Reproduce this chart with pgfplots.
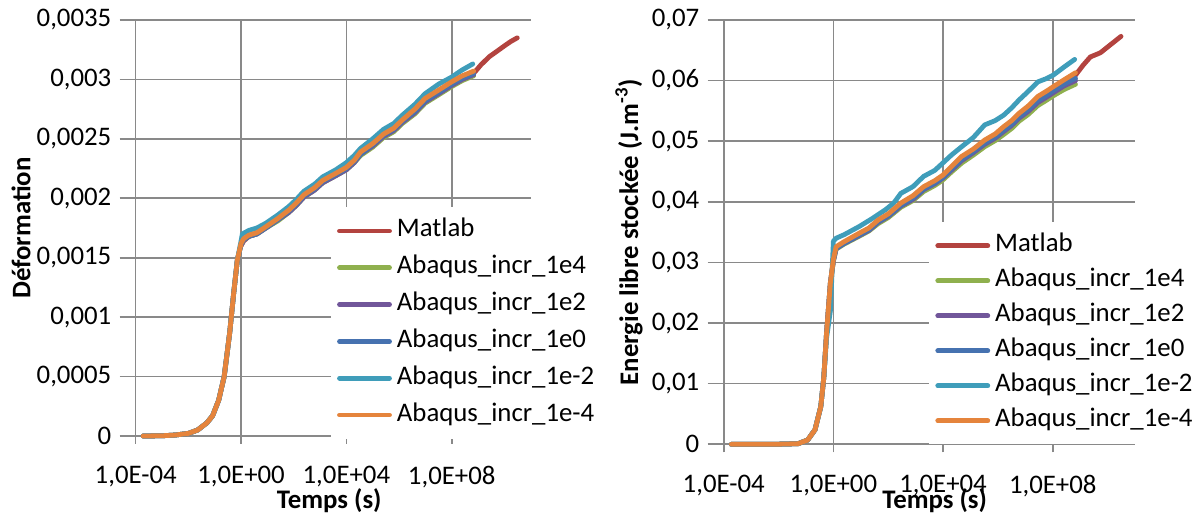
\documentclass[border=0pt]{standalone}
\usepackage{fontspec}
\setmainfont{Carlito}
\usepackage{pgfplots}
\pgfplotsset{compat=1.18}
\definecolor{gridgray}{HTML}{898989}
\definecolor{cMat}{HTML}{B3433F}
\definecolor{cG}{HTML}{8FB04E}
\definecolor{cP}{HTML}{71569A}
\definecolor{cB}{HTML}{4672B0}
\definecolor{cC}{HTML}{3F9DBA}
\definecolor{cO}{HTML}{E5843C}
\pgfplotsset{
  excel/.style={
    scale only axis,
    anchor=south west,
    font=\fontsize{13.4}{16}\selectfont,
    axis x line=bottom, axis y line=left,
    axis line style={-, draw=gridgray, line width=0.8pt},
    grid=major,
    major grid style={draw=gridgray, line width=0.8pt},
    xmin=-4, xmax=11,
    xtick={-4,0,4,8},
    xticklabels={{1,0E-04},{1,0E+00},{1,0E+04},{1,0E+08}},
    scaled x ticks=false, scaled y ticks=false,
    x tick style={draw=gridgray, line width=0.8pt},
    y tick style={draw=gridgray, line width=0.8pt},
    major tick length=8pt,
    xtick align=center,
    ytick align=outside,
    xticklabel style={inner sep=0pt, anchor=north, yshift=-11pt},
    yticklabel style={inner sep=0pt, anchor=east, xshift=-4pt},
    xlabel={Temps (s)},
    label style={font=\fontsize{13.4}{16}\bfseries},
    clip=false,
    legend cell align=left,
    legend image code/.code={\draw[##1, line cap=round] (0pt,0pt) -- (25pt,0pt);},
    every axis plot/.append style={line width=2.4pt, line cap=round, line join=round, no markers},
  }
}
\begin{document}
\begin{tikzpicture}
\path[use as bounding box] (0,0) rectangle (599pt,256.5pt);
% ---------------- left panel ----------------
\begin{axis}[excel,
  at={(67.85pt,38.5pt)}, width=197.5pt, height=208pt,
  ymin=0, ymax=0.0035,
  ytick={0,0.0005,0.001,0.0015,0.002,0.0025,0.003,0.0035},
  yticklabels={{0},{0,0005},{0,001},{0,0015},{0,002},{0,0025},{0,003},{0,0035}},
  ylabel={Déformation},
  ylabel style={at={(axis description cs:-0.2904,0.5)}, anchor=center, rotate=0},
  xlabel style={at={(axis description cs:0.49,-0.156)}, anchor=center},
  legend style={draw=none, fill=white, inner xsep=3pt, inner ysep=3pt, row sep=0pt,
    font=\fontsize{13.4}{16}\selectfont,
    at={(axis description cs:0.4937,0.5524)}, anchor=north west,
    nodes={inner xsep=2.5pt, inner ysep=1.2pt, text height=11pt, text depth=5pt}},
]
\addplot[cMat] coordinates {(0,0.0016)(0.1,0.00164)(0.3,0.00168)(0.6,0.0017)(0.94,0.00175)(1.4,0.00182)(1.81,0.00189)(2.1,0.00195)(2.39,0.00202)(2.8,0.00208)(3.1,0.00214)(3.6,0.0022)(4,0.00225)(4.3,0.00231)(4.54,0.00238)(5,0.00245)(5.41,0.00253)(5.8,0.00258)(6.13,0.00265)(6.6,0.00274)(6.99,0.00283)(7.5,0.0029)(8,0.00297)(8.4,0.00302)(8.83,0.00305)(9.1,0.00312)(9.42,0.00319)(9.8,0.00325)(10.05,0.00329)(10.25,0.00332)(10.49,0.00335)};
\addlegendentry{Matlab}
\addplot[cG] coordinates {(-3.72,0)(-3,0.000002)(-2.5,0.000008)(-2,0.000022)(-1.65,0.00005)(-1.3,0.00011)(-1.08,0.00017)(-0.85,0.0003)(-0.64,0.0005)(-0.43,0.00087)(-0.28,0.0012)(-0.14,0.00148)(0,0.00161)(0.1,0.00165)(0.3,0.00168)(0.6,0.0017)(0.94,0.00175)(1.4,0.00181)(1.81,0.00188)(2.1,0.00194)(2.39,0.00201)(2.8,0.00207)(3.1,0.00213)(3.6,0.00219)(4,0.00224)(4.3,0.0023)(4.54,0.00236)(5,0.00243)(5.41,0.00251)(5.8,0.00256)(6.13,0.00263)(6.6,0.00271)(6.99,0.0028)(7.5,0.00287)(8,0.00294)(8.4,0.00299)(8.83,0.00303)};
\addlegendentry{Abaqus\_incr\_1e4}
\addplot[cP] coordinates {(-3.72,0)(-3,0.000002)(-2.5,0.000008)(-2,0.000022)(-1.65,0.00005)(-1.3,0.00011)(-1.08,0.00017)(-0.85,0.0003)(-0.64,0.0005)(-0.43,0.00087)(-0.28,0.0012)(-0.14,0.00148)(0,0.00161)(0.1,0.00165)(0.3,0.00168)(0.6,0.0017)(0.94,0.00175)(1.4,0.00182)(1.81,0.00188)(2.1,0.00194)(2.39,0.00201)(2.8,0.00207)(3.1,0.00213)(3.6,0.00219)(4,0.00224)(4.3,0.0023)(4.54,0.00237)(5,0.00244)(5.41,0.00252)(5.8,0.00257)(6.13,0.00264)(6.6,0.00272)(6.99,0.00281)(7.5,0.00288)(8,0.00295)(8.4,0.003)(8.83,0.00304)};
\addlegendentry{Abaqus\_incr\_1e2}
\addplot[cB] coordinates {(-3.72,0)(-3,0.000002)(-2.5,0.000008)(-2,0.000022)(-1.65,0.00005)(-1.3,0.00011)(-1.08,0.00017)(-0.85,0.0003)(-0.64,0.0005)(-0.43,0.00087)(-0.28,0.0012)(-0.14,0.00148)(0,0.00161)(0.1,0.00165)(0.3,0.00168)(0.6,0.0017)(0.94,0.00175)(1.4,0.00182)(1.81,0.00189)(2.1,0.00195)(2.39,0.00202)(2.8,0.00208)(3.1,0.00214)(3.6,0.0022)(4,0.00225)(4.3,0.00231)(4.54,0.00237)(5,0.00245)(5.41,0.00253)(5.8,0.00258)(6.13,0.00265)(6.6,0.00273)(6.99,0.00282)(7.5,0.00289)(8,0.00296)(8.4,0.00301)(8.83,0.00305)};
\addlegendentry{Abaqus\_incr\_1e0}
\addplot[cC] coordinates {(-3.72,0)(-3,0.000002)(-2.5,0.000008)(-2,0.000022)(-1.65,0.00005)(-1.3,0.00011)(-1.08,0.00017)(-0.85,0.0003)(-0.64,0.0005)(-0.43,0.00087)(-0.28,0.0012)(-0.14,0.00148)(0,0.00164)(0.05,0.0017)(0.3,0.00173)(0.6,0.00175)(0.94,0.00179)(1.4,0.00186)(1.81,0.00193)(2.1,0.00199)(2.39,0.00206)(2.8,0.00212)(3.1,0.00218)(3.6,0.00224)(4,0.0023)(4.3,0.00236)(4.54,0.00242)(5,0.0025)(5.41,0.00258)(5.8,0.00263)(6.13,0.0027)(6.6,0.00279)(6.99,0.00288)(7.5,0.00296)(8,0.00302)(8.4,0.00308)(8.8,0.00313)};
\addlegendentry{Abaqus\_incr\_1e-2}
\addplot[cO] coordinates {(-3.72,0)(-3,0.000002)(-2.5,0.000008)(-2,0.000022)(-1.65,0.00005)(-1.3,0.00011)(-1.08,0.00017)(-0.85,0.0003)(-0.64,0.0005)(-0.43,0.00087)(-0.28,0.0012)(-0.14,0.00148)(0,0.00162)(0.1,0.00166)(0.3,0.00169)(0.6,0.00171)(0.94,0.00176)(1.4,0.00183)(1.81,0.0019)(2.1,0.00196)(2.39,0.00203)(2.8,0.00209)(3.1,0.00215)(3.6,0.00221)(4,0.00226)(4.3,0.00232)(4.54,0.00239)(5,0.00246)(5.41,0.00254)(5.8,0.00259)(6.13,0.00266)(6.6,0.00275)(6.99,0.00284)(7.5,0.00291)(8,0.00298)(8.4,0.00303)(8.83,0.00307)};
\addlegendentry{Abaqus\_incr\_1e-4}
\end{axis}
% ---------------- right panel ----------------
\begin{axis}[excel,
  at={(361.85pt,34.35pt)}, width=205.65pt, height=212.15pt,
  ymin=0, ymax=0.07,
  ytick={0,0.01,0.02,0.03,0.04,0.05,0.06,0.07},
  yticklabels={{0},{0,01},{0,02},{0,03},{0,04},{0,05},{0,06},{0,07}},
  ylabel={Energie libre stockée (J.m\textsuperscript{-3})},
  ylabel style={at={(axis description cs:-0.2302,0.5)}, anchor=center, rotate=0},
  xlabel style={at={(axis description cs:0.513,-0.133)}, anchor=center},
  legend style={draw=none, fill=white, inner xsep=3pt, inner ysep=3pt, row sep=0pt,
    font=\fontsize{13.4}{16}\selectfont,
    at={(axis description cs:0.4991,0.5240)}, anchor=north west,
    nodes={inner xsep=2.5pt, inner ysep=1pt, text height=10.8pt, text depth=4.7pt}},
]
\addplot[cMat] coordinates {(0,0.0322)(0.1,0.0325)(0.38,0.0332)(0.93,0.0346)(1.3,0.0355)(1.63,0.0368)(2,0.0378)(2.46,0.0396)(2.9,0.0408)(3.29,0.0423)(3.7,0.0433)(3.99,0.0442)(4.3,0.0456)(4.68,0.0473)(5.1,0.0485)(5.52,0.05)(5.9,0.051)(6.21,0.0522)(6.5,0.0532)(6.77,0.0544)(7.1,0.0556)(7.46,0.0572)(7.75,0.058)(8.02,0.0588)(8.4,0.0599)(8.83,0.0609)(9.1,0.0625)(9.37,0.0639)(9.74,0.0646)(10.1,0.0659)(10.49,0.0673)};
\addlegendentry{Matlab}
\addplot[cG] coordinates {(-3.72,0)(-2.5,0)(-2,0.00002)(-1.29,0.0001)(-0.94,0.0007)(-0.67,0.0024)(-0.46,0.0062)(-0.35,0.011)(-0.25,0.0183)(-0.11,0.0266)(0,0.0302)(0.1,0.0322)(0.38,0.033)(0.93,0.0343)(1.3,0.0352)(1.63,0.0364)(2,0.0374)(2.46,0.0391)(2.9,0.0402)(3.29,0.0417)(3.7,0.0427)(3.99,0.0436)(4.3,0.0449)(4.68,0.0464)(5.1,0.0477)(5.52,0.0491)(5.9,0.0501)(6.21,0.0511)(6.5,0.0521)(6.77,0.0533)(7.1,0.0544)(7.46,0.0559)(7.75,0.0567)(8.02,0.0575)(8.4,0.0585)(8.83,0.0594)};
\addlegendentry{Abaqus\_incr\_1e4}
\addplot[cP] coordinates {(-3.72,0)(-2.5,0)(-2,0.00002)(-1.29,0.0001)(-0.94,0.0007)(-0.67,0.0024)(-0.46,0.0062)(-0.35,0.011)(-0.25,0.0183)(-0.11,0.0266)(0,0.0303)(0.1,0.0323)(0.38,0.0331)(0.93,0.0344)(1.3,0.0353)(1.63,0.0366)(2,0.0376)(2.46,0.0393)(2.9,0.0404)(3.29,0.042)(3.7,0.043)(3.99,0.0439)(4.3,0.0452)(4.68,0.0468)(5.1,0.0481)(5.52,0.0495)(5.9,0.0505)(6.21,0.0516)(6.5,0.0526)(6.77,0.0538)(7.1,0.0549)(7.46,0.0564)(7.75,0.0572)(8.02,0.058)(8.4,0.0591)(8.83,0.06)};
\addlegendentry{Abaqus\_incr\_1e2}
\addplot[cB] coordinates {(-3.72,0)(-2.5,0)(-2,0.00002)(-1.29,0.0001)(-0.94,0.0007)(-0.67,0.0024)(-0.46,0.0062)(-0.35,0.011)(-0.25,0.0183)(-0.11,0.0266)(0,0.0303)(0.1,0.0323)(0.38,0.0331)(0.93,0.0345)(1.3,0.0354)(1.63,0.0367)(2,0.0377)(2.46,0.0394)(2.9,0.0406)(3.29,0.0421)(3.7,0.0431)(3.99,0.044)(4.3,0.0454)(4.68,0.047)(5.1,0.0483)(5.52,0.0497)(5.9,0.0507)(6.21,0.0518)(6.5,0.0528)(6.77,0.054)(7.1,0.0552)(7.46,0.0567)(7.75,0.0575)(8.02,0.0583)(8.4,0.0594)(8.83,0.0604)};
\addlegendentry{Abaqus\_incr\_1e0}
\addplot[cC] coordinates {(-3.72,0)(-2.5,0)(-2,0.00002)(-1.29,0.0001)(-0.94,0.0007)(-0.67,0.0024)(-0.46,0.0062)(-0.35,0.011)(-0.25,0.0175)(-0.11,0.022)(0,0.0335)(0.1,0.034)(0.4,0.0346)(0.93,0.0359)(1.4,0.0372)(1.9,0.0387)(2.2,0.0398)(2.46,0.0414)(2.9,0.0425)(3.29,0.0442)(3.7,0.0452)(3.99,0.0464)(4.3,0.0477)(4.68,0.0491)(5.1,0.0506)(5.52,0.0527)(5.9,0.0534)(6.21,0.0543)(6.5,0.0555)(6.77,0.0568)(7.1,0.0582)(7.46,0.0598)(7.75,0.0603)(8.02,0.0609)(8.4,0.0622)(8.8,0.0635)};
\addlegendentry{Abaqus\_incr\_1e-2}
\addplot[cO] coordinates {(-3.72,0)(-2.5,0)(-2,0.00002)(-1.29,0.0001)(-0.94,0.0007)(-0.67,0.0024)(-0.46,0.0062)(-0.35,0.011)(-0.25,0.0183)(-0.11,0.0266)(0,0.0305)(0.1,0.0326)(0.38,0.0334)(0.93,0.0348)(1.3,0.0357)(1.63,0.037)(2,0.038)(2.46,0.0398)(2.9,0.041)(3.29,0.0425)(3.7,0.0435)(3.99,0.0444)(4.3,0.0458)(4.68,0.0475)(5.1,0.0487)(5.52,0.0502)(5.9,0.0512)(6.21,0.0524)(6.5,0.0534)(6.77,0.0546)(7.1,0.0558)(7.46,0.0574)(7.75,0.0582)(8.02,0.059)(8.4,0.0601)(8.83,0.0613)};
\addlegendentry{Abaqus\_incr\_1e-4}
\end{axis}
\end{tikzpicture}
\end{document}
